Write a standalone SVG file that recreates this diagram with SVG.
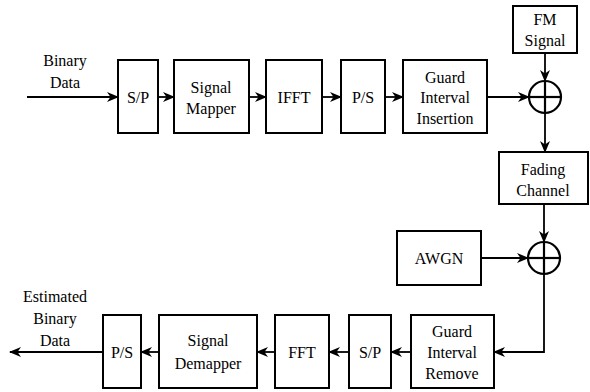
<svg xmlns="http://www.w3.org/2000/svg" width="590" height="392" viewBox="0 0 590 392">
<style>
.b{fill:#fff;stroke:#000;stroke-width:2}
.c{fill:none;stroke:#000;stroke-width:2.2}
.l{fill:none;stroke:#000;stroke-width:1.8;marker-end:url(#a)}
</style>
<defs>
<marker id="a" markerWidth="12" markerHeight="10" refX="11" refY="5" orient="auto" markerUnits="userSpaceOnUse">
<path d="M0,0 L12,5 L0,10 L3.5,5 z" fill="#000"/>
</marker>
</defs>
<rect width="590" height="392" fill="#fff"/>
<g id="connectors">
<line class="l" x1="27" y1="97" x2="118" y2="97"/>
<line class="l" x1="158" y1="97" x2="174" y2="97"/>
<line class="l" x1="249" y1="97" x2="266" y2="97"/>
<line class="l" x1="322" y1="97" x2="341" y2="97"/>
<line class="l" x1="385" y1="97" x2="403" y2="97"/>
<line class="l" x1="487" y1="97" x2="529" y2="97"/>
<line class="l" x1="545" y1="53" x2="545" y2="81"/>
<line class="l" x1="545" y1="113" x2="545" y2="152"/>
<line class="l" x1="544" y1="204" x2="544" y2="242"/>
<line class="l" x1="481" y1="258" x2="528" y2="258"/>
<polyline class="l" points="544,274 544,352 494,352"/>
<line class="l" x1="411" y1="352" x2="391" y2="352"/>
<line class="l" x1="349" y1="352" x2="329" y2="352"/>
<line class="l" x1="275" y1="352" x2="257" y2="352"/>
<line class="l" x1="159" y1="352" x2="141" y2="352"/>
<line class="l" x1="103" y1="352" x2="10" y2="352"/>
</g>
<g font-family="Liberation Serif, serif" font-size="16" text-anchor="middle" fill="#000">
<g id="binary-in"><text x="65" y="66">Binary</text><text x="65" y="88">Data</text></g>
<g id="sp1"><rect class="b" x="118" y="60" width="40" height="73"/><text x="138" y="103">S/P</text></g>
<g id="mapper"><rect class="b" x="174" y="60" width="75" height="73"/><text x="211" y="93">Signal</text><text x="211" y="114">Mapper</text></g>
<g id="ifft"><rect class="b" x="266" y="60" width="56" height="73"/><text x="294" y="103">IFFT</text></g>
<g id="ps1"><rect class="b" x="341" y="60" width="44" height="73"/><text x="363" y="103">P/S</text></g>
<g id="gii"><rect class="b" x="403" y="60" width="84" height="73"/><text x="445" y="83">Guard</text><text x="445" y="103">Interval</text><text x="445" y="124">Insertion</text></g>
<g id="fm"><rect class="b" x="513" y="6" width="64" height="47"/><text x="545" y="25">FM</text><text x="545" y="46">Signal</text></g>
<g id="sum1"><circle class="c" cx="545" cy="97" r="16"/><line class="c" x1="529" y1="97" x2="561" y2="97"/><line class="c" x1="545" y1="81" x2="545" y2="113"/></g>
<g id="fading"><rect class="b" x="499" y="152" width="89" height="52"/><text x="543" y="175">Fading</text><text x="543" y="196">Channel</text></g>
<g id="sum2"><circle class="c" cx="544" cy="258" r="16"/><line class="c" x1="528" y1="258" x2="560" y2="258"/><line class="c" x1="544" y1="242" x2="544" y2="274"/></g>
<g id="awgn"><rect class="b" x="397" y="231" width="84" height="54"/><text x="439" y="264">AWGN</text></g>
<g id="gir"><rect class="b" x="411" y="315" width="83" height="73"/><text x="452" y="337">Guard</text><text x="452" y="358">Interval</text><text x="452" y="379">Remove</text></g>
<g id="sp2"><rect class="b" x="349" y="315" width="42" height="73"/><text x="370" y="358">S/P</text></g>
<g id="fft"><rect class="b" x="275" y="315" width="54" height="73"/><text x="302" y="358">FFT</text></g>
<g id="demapper"><rect class="b" x="159" y="315" width="98" height="73"/><text x="208" y="346">Signal</text><text x="208" y="369">Demapper</text></g>
<g id="ps2"><rect class="b" x="103" y="315" width="38" height="73"/><text x="122" y="358">P/S</text></g>
<g id="binary-out"><text x="55" y="302">Estimated</text><text x="55" y="324">Binary</text><text x="55" y="346">Data</text></g>
</g>
</svg>
